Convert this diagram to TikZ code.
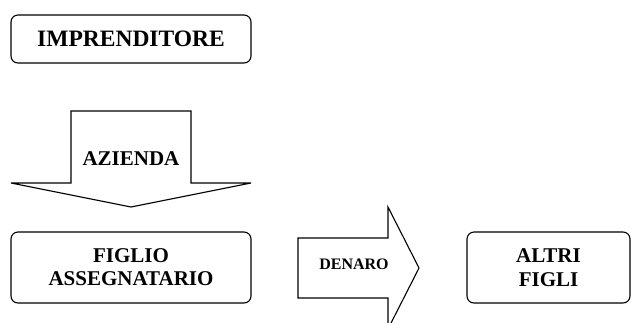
\documentclass[tikz,border=0pt]{standalone}
\usepackage{fontspec}
\setmainfont{Liberation Serif}
\usepackage{tikz}

\begin{document}
\begin{tikzpicture}[x=1pt,y=-1pt,line width=1.1pt,
  box/.style={draw,rounded corners=7pt,align=center,font=\fontsize{21}{23}\selectfont\bfseries}]
      \clip (0,0) rectangle (631,322);
      \node[box,minimum width=240pt,minimum height=48pt,font=\fontsize{23.5}{25}\selectfont\bfseries] (imprenditore) at (131,39) {IMPRENDITORE};
      \node[box,minimum width=240pt,minimum height=71pt] (figlio) at (131,267.5) {FIGLIO\\ASSEGNATARIO};
      \node[box,minimum width=163pt,minimum height=71pt,font=\fontsize{21}{24}\selectfont\bfseries] (altri) at (548.5,267.5) {ALTRI\\FIGLI};
      \draw (71,111) -- (191,111) -- (191,183) -- (251,183) -- (131,207)
      -- (11,183) -- (71,183) -- cycle;
      \draw (298,238) -- (388,238) -- (388,207) -- (419,268) -- (388,329)
      -- (388,298) -- (298,298) -- cycle;
      \node[font=\fontsize{21}{23}\selectfont\bfseries] (azienda) at (131,159) {AZIENDA};
      \node[font=\fontsize{16}{18}\selectfont\bfseries] (denaro) at (354,264) {DENARO};
    \end{tikzpicture}
\end{document}
